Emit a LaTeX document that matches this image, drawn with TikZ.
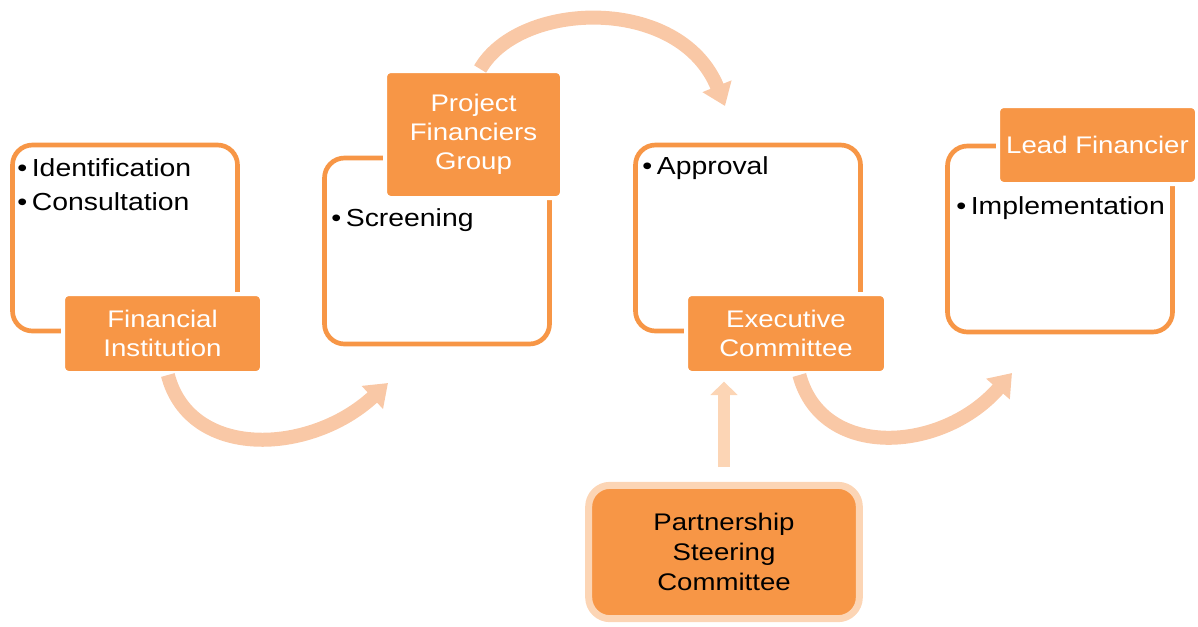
\documentclass[tikz,border=0pt]{standalone}
\usepackage{fontspec}
\setmainfont{Liberation Sans}[FakeStretch=1.15]
\usetikzlibrary{arrows.meta, positioning}
\definecolor{accent}{HTML}{F79646}
\definecolor{peach}{HTML}{F9C8A6}
\definecolor{lightpeach}{HTML}{FCD5B5}
\newcommand{\bul}{•\hspace{3.5pt}}

\begin{document}
\begin{tikzpicture}[ x = 0.75pt, y = -0.75pt
                   , stagebox/.style = { rectangle
                                       , rounded corners = 15pt
                                       , draw = accent
                                       , line width = 3.5pt
                                       , minimum width = 168.75pt
                                       , minimum height = 139.5pt }
                   , rolebox/.style = { rectangle
                                      , rounded corners = 4pt
                                      , fill = accent
                                      , draw = white
                                      , line width = 3pt
                                      , text = white
                                      , align = center
                                      , inner sep = 0pt
                                      , font = \fontsize{18}{21.75}\selectfont }
                   , steer/.style = { rectangle
                                    , rounded corners = 16pt
                                    , fill = accent
                                    , draw = lightpeach
                                    , line width = 5.25pt
                                    , align = center
                                    , minimum width = 203pt
                                    , minimum height = 100pt
                                    , font = \fontsize{18}{22.5}\selectfont }
                   , bullet/.style = { anchor = west
                                     , inner sep = 0pt
                                     , font = \fontsize{18.5}{22}\selectfont }
                   , flow/.style = { draw = peach
                                   , line width = 10.5pt
                                   , -{Triangle[width = 22.5pt, length = 16pt]} }
                   , lift/.style = { draw = lightpeach
                                   , line width = 9pt
                                   , -{Triangle[width = 20pt, length = 10pt]}
                                   , shorten <= 11pt
                                   , shorten >= 5pt }
                   ]

  \useasboundingbox (0,0) rectangle (1198,626);

  % stages
  \node (box1) [stagebox] at (125,238) {};
  \node (box2) [stagebox] at (437,251) {};
  \node (box3) [stagebox] at (748,238) {};
  \node (box4) [stagebox] at (1060,239) {};

  \node (ident) [bullet] at (17,168) {\bul Identification};
  \node (consult) [bullet] at (17,202) {\bul Consultation};
  \node (screen) [bullet] at (331,220) {\bul Screening};
  \node (approve) [bullet] at (642,168) {\bul Approval};
  \node (implement) [bullet] at (956,208) {\bul Implementation};

  % roles
  \node (fin) [rolebox, minimum width = 149.25pt, minimum height = 59.25pt]
    at (162.5,333.5) {Financial\\Institution};
  \node (pfg) [rolebox, minimum width = 132.75pt, minimum height = 95.25pt]
    at (473.5,134.5) {Project\\Financiers\\Group};
  \node (exe) [rolebox, minimum width = 150pt, minimum height = 59.25pt]
    at (786,333.5) {Executive\\Committee};
  \node (lead) [rolebox, minimum width = 149.25pt, minimum height = 58.5pt]
    at (1097.5,145) {Lead Financier};

  \node (psc) [steer] at (724,552) {Partnership\\Steering\\Committee};

  % flow between stages
  \coordinate (into2) at (388,383);
  \coordinate (into3) at (725,106);
  \coordinate (into4) at (1012,373);

  \draw[flow] ([xshift = 4pt]fin.south)
    .. controls (190,460) and (310,455) .. (into2);
  \draw[flow] ([xshift = 5pt]pfg.north)
    .. controls (520,0) and (680,-5) .. (into3);
  \draw[flow] ([xshift = 10pt]exe.south)
    .. controls (822,460) and (942,453) .. (into4);

  \draw[lift] (psc.north) -- (psc.north |- exe.south);

\end{tikzpicture}
\end{document}
